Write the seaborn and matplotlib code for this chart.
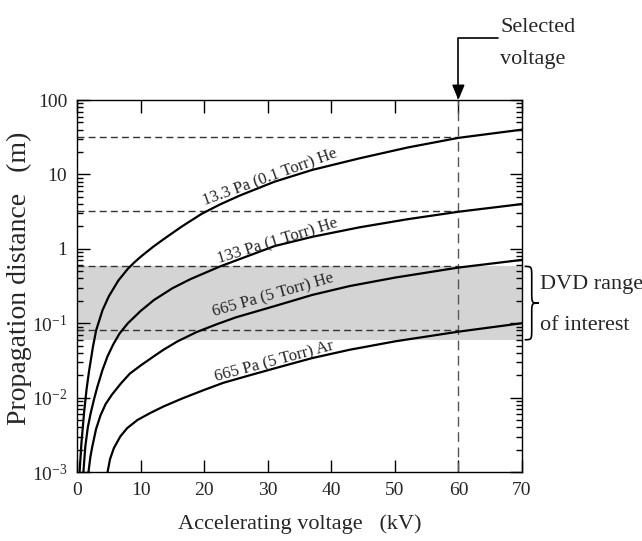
import numpy as np
import pandas as pd
import matplotlib
matplotlib.use('Agg')
import matplotlib.pyplot as plt
from matplotlib.path import Path
from matplotlib.patches import PathPatch
import seaborn as sns

# propagation distance (m) vs accelerating voltage (kV)
kv_he_01 = [0.4, 0.7, 1.1, 1.5, 1.9, 2.5, 3.0, 4.0, 5.0, 6.5, 8.0, 9.0, 10.0, 12.0, 14.0,
            16.5, 19.6, 22.5, 25.6, 31.1, 37.0, 44.5, 52.0, 60.0, 70.0]
d_he_01 = [0.001, 0.0025, 0.0062, 0.013, 0.023, 0.048, 0.080, 0.149, 0.23, 0.375, 0.54, 0.655,
           0.78, 1.07, 1.42, 2.0, 2.95, 3.95, 5.2, 8.0, 11.5, 16.5, 23.0, 31.0, 40.0]

kv_he_1 = [1.0, 1.3, 1.7, 2.15, 2.7, 3.2, 4.0, 4.8, 5.7, 6.7, 8.0, 10.0, 12.1, 15.0, 17.8,
           22.5, 26.0, 31.1, 37.0, 44.5, 52.0, 60.0, 70.0]
d_he_1 = [0.001, 0.0022, 0.0040, 0.0062, 0.0097, 0.0140, 0.0235, 0.036, 0.052, 0.073, 0.100,
          0.146, 0.205, 0.295, 0.39, 0.58, 0.75, 1.09, 1.45, 1.95, 2.5, 3.15, 4.0]

kv_he_5 = [1.8, 2.1, 2.4, 3.0, 3.7, 4.5, 5.5, 6.9, 8.3, 10.0, 12.1, 13.6, 15.8, 18.8, 22.0,
           25.0, 31.1, 37.0, 42.9, 50.0, 60.0, 70.0]
d_he_5 = [0.001, 0.0016, 0.0022, 0.0038, 0.0058, 0.0082, 0.011, 0.0155, 0.021, 0.027, 0.036,
          0.044, 0.057, 0.076, 0.097, 0.12, 0.17, 0.24, 0.316, 0.41, 0.56, 0.71]

kv_ar_5 = [4.8, 5.2, 5.8, 6.8, 7.9, 9.5, 11.5, 13.6, 16.5, 19.9, 23.0, 27.2, 32.0, 37.0,
           42.9, 50.0, 60.0, 70.0]
d_ar_5 = [0.001, 0.0015, 0.0021, 0.0030, 0.0039, 0.0050, 0.0062, 0.0076, 0.0097, 0.0126,
          0.0158, 0.020, 0.026, 0.034, 0.044, 0.057, 0.077, 0.100]

names = ['13.3 Pa (0.1 Torr) He', '133 Pa (1 Torr) He', '665 Pa (5 Torr) He', '665 Pa (5 Torr) Ar']
label_kv = [30.4, 31.5, 30.8, 31.1]
label_d = [9.2, 1.27, 0.24, 0.030]
label_rot = [20, 17, 16, 15]

selected_kv = 60
ref_levels = [32, 3.2, 0.58, 0.082]
band_lo, band_hi = 0.06, 0.58

xticks = [0, 10, 20, 30, 40, 50, 60, 70]
yticks = [1e-3, 1e-2, 1e-1, 1, 10, 100]
ytick_labels = ['10$^{-3}$', '10$^{-2}$', '10$^{-1}$', '1', '10', '100']

curves = [(names[0], kv_he_01, d_he_01), (names[1], kv_he_1, d_he_1),
          (names[2], kv_he_5, d_he_5), (names[3], kv_ar_5, d_ar_5)]
df = pd.concat([pd.DataFrame({'kV': k, 'dist': d, 'curve': n}) for n, k, d in curves],
               ignore_index=True)

sns.set_style('ticks')
plt.rcParams['font.family'] = ['Liberation Serif', 'DejaVu Serif']
plt.rcParams['mathtext.fontset'] = 'custom'
plt.rcParams['mathtext.rm'] = 'Liberation Serif'
plt.rcParams['mathtext.it'] = 'Liberation Serif:italic'

fig = plt.figure(figsize=(6.42, 5.41), dpi=100)
ax = fig.add_axes([0.12, 0.1275, 0.693, 0.6876])

# DVD range band and reference lines
ax.axhspan(band_lo, band_hi, color='#d4d4d4', lw=0, zorder=0)
for lev in ref_levels:
    ax.plot([0, selected_kv], [lev, lev], color='#333333', lw=1.0, ls=(0, (5, 3)), zorder=1)
ax.axvline(selected_kv, color='#555555', lw=1.0, ls=(0, (7, 4)), zorder=1)

sns.lineplot(data=df, x='kV', y='dist', units='curve', estimator=None, color='black',
             lw=1.6, sort=False, ax=ax, zorder=3)

for n, xk, yd, r in zip(names, label_kv, label_d, label_rot):
    ax.text(xk, yd, n, rotation=r, rotation_mode='anchor', ha='center', va='center',
            fontsize=12)

ax.set_yscale('log')
ax.set_xlim(0, 70)
ax.set_ylim(1e-3, 100)
ax.set_xticks(xticks)
ax.set_yticks(yticks)
ax.set_yticklabels(ytick_labels)
ax.tick_params(which='both', direction='in', top=True, right=True, labelsize=14,
               color='black', width=1)
ax.tick_params(which='major', length=9, pad=7)
ax.tick_params(which='minor', length=4)
for s in ax.spines.values():
    s.set_color('black')
    s.set_linewidth(1.0)

ax.set_xlabel('Accelerating voltage   (kV)', fontsize=16, labelpad=11)
ax.set_ylabel('Propagation distance   (m)', fontsize=20)
ax.yaxis.set_label_coords(-0.102, 0.52)

# selected voltage arrow
ax.annotate('', xy=(selected_kv, 1.0), xycoords=('data', 'axes fraction'),
            xytext=(66.2, 1.167), textcoords=('data', 'axes fraction'),
            arrowprops=dict(arrowstyle='-|>,head_length=0.6,head_width=0.25',
                            connectionstyle='angle,angleA=180,angleB=90,rad=0',
                            color='black', lw=1.2, shrinkA=0, shrinkB=0,
                            mutation_scale=15))
ax.text(66.6, 1.183, 'Selected', transform=ax.get_xaxis_transform(), fontsize=16,
        va='baseline', ha='left')
ax.text(66.6, 1.097, 'voltage', transform=ax.get_xaxis_transform(), fontsize=16,
        va='baseline', ha='left')

# curly brace for DVD range
def frac(v):
    return (np.log10(v) + 3) / 5

top, bot = frac(band_hi), frac(band_lo)
mid = (top + bot) / 2
x0, w, q = 1.006, 0.032, 0.03
xm, xt = x0 + w / 2, x0 + w
verts = [(x0, top), (xm, top), (xm, top), (xm, top - q),
         (xm, mid + q),
         (xm, mid), (xm, mid), (xt, mid),
         (xm, mid), (xm, mid), (xm, mid - q),
         (xm, bot + q),
         (xm, bot), (xm, bot), (x0, bot)]
codes = [Path.MOVETO, Path.CURVE4, Path.CURVE4, Path.CURVE4, Path.LINETO,
         Path.CURVE4, Path.CURVE4, Path.CURVE4, Path.CURVE4, Path.CURVE4, Path.CURVE4,
         Path.LINETO, Path.CURVE4, Path.CURVE4, Path.CURVE4]
ax.add_patch(PathPatch(Path(verts, codes), transform=ax.transAxes, fill=False,
                       lw=1.2, color='black', clip_on=False))
ax.text(1.040, 0.492, 'DVD range', transform=ax.transAxes, fontsize=16, va='baseline')
ax.text(1.040, 0.382, 'of interest', transform=ax.transAxes, fontsize=16, va='baseline')

fig.savefig('out.png', dpi=100)
